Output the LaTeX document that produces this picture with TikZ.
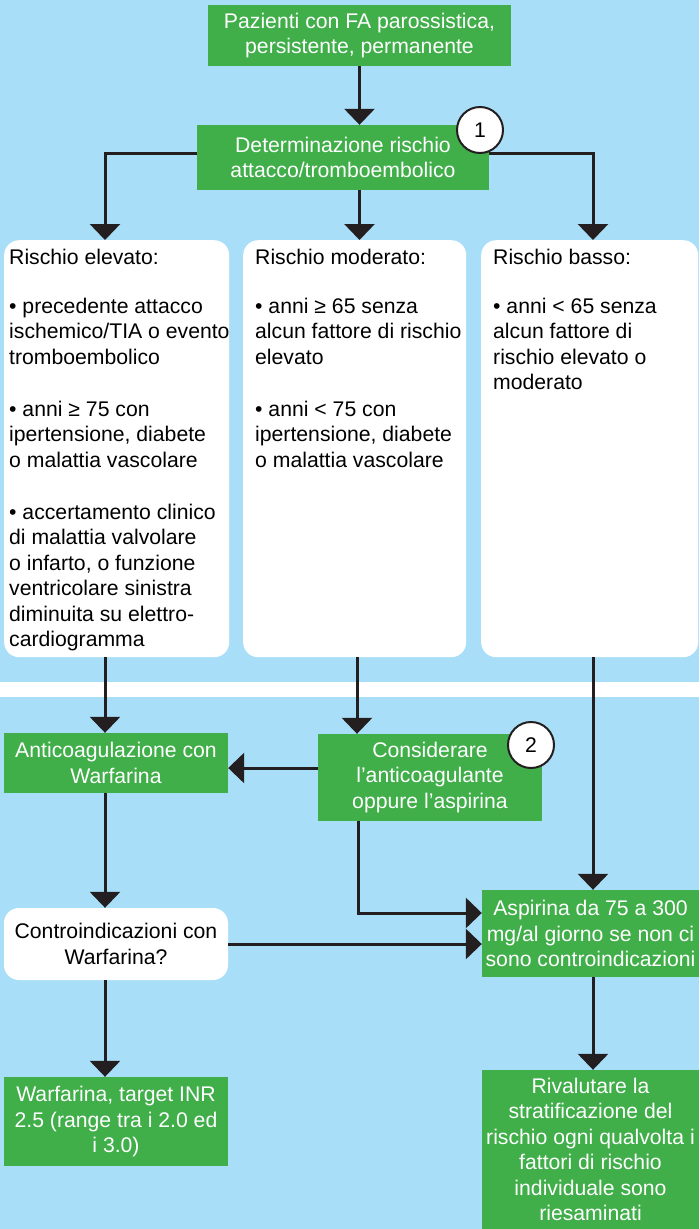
\documentclass[tikz,border=0pt]{standalone}
\usepackage{fontspec}
\setmainfont{Liberation Sans}
\usetikzlibrary{arrows.meta}

\definecolor{skyback}{RGB}{169,222,249}
\definecolor{boxgreen}{RGB}{64,174,73}
\definecolor{inkline}{RGB}{35,31,32}

% top-aligned text for the three risk boxes (lines are broken by hand)
\newcommand{\riskpar}[2]{\makebox[#1][l]{\parbox[t][400pt][t]{300pt}{\raggedright #2}}}

\begin{document}
\begin{tikzpicture}[x=1pt, y=-1pt,
		every node/.style={font=\fontsize{21.2}{25.5}\selectfont},
		greenbox/.style={rectangle, fill=boxgreen, text=white, align=center, inner sep=0pt},
		whitebox/.style={rectangle, rounded corners=15pt, fill=white, text=black, inner sep=0pt},
		riskbox/.style={whitebox, anchor=north west, minimum height=417pt, inner ysep=6pt},
		numcirc/.style={circle, draw=inkline, line width=2pt, fill=white, minimum size=46pt, inner sep=0pt},
		arr/.style={draw=inkline, line width=3pt, -{Triangle[length=16pt,width=30pt]}}]
		\def\picW{699} % Width of the picture
		\def\picH{1229} % Height of the picture
		
		% Background and white separating band
		\useasboundingbox (0,0) rectangle (\picW,\picH);
		\fill[skyback] (0,0) rectangle (\picW,\picH);
		\fill[white] (0,682) rectangle (\picW,697);
		
		% Columns of the connectors
		\coordinate (colA) at (105,0);
		\coordinate (colB) at (357,0);
		\coordinate (colC) at (593,0);
		\coordinate (colD) at (358,0);
		
		% Upper part
		\node[greenbox, minimum width=303pt, minimum height=61pt] (top) at (359.5,35.5)
			{Pazienti con FA parossistica,\\persistente, permanente};
		\node[greenbox, minimum width=292pt, minimum height=65pt] (det) at (343,157.5)
			{Determinazione rischio\\attacco/tromboembolico};
		
		\node[riskbox, minimum width=225pt, inner xsep=5pt] (high) at (4,240)
			{\riskpar{215pt}{Rischio elevato:\\[23.5pt]
				• precedente attacco\\ischemico/TIA o evento\\tromboembolico\\[26.5pt]
				• anni ≥ 75 con\\ipertensione, diabete\\o malattia vascolare\\[26.5pt]
				• accertamento clinico\\di malattia valvolare\\o infarto, o funzione\\ventricolare sinistra\\diminuita su elettro-\\cardiogramma}};
		\node[riskbox, minimum width=223pt, inner xsep=12pt] (mod) at (243,240)
			{\riskpar{199pt}{Rischio moderato:\\[23.5pt]
				• anni ≥ 65 senza\\alcun fattore di rischio\\elevato\\[26.5pt]
				• anni < 75 con\\ipertensione, diabete\\o malattia vascolare}};
		\node[riskbox, minimum width=217pt, inner xsep=12pt] (low) at (481,240)
			{\riskpar{193pt}{Rischio basso:\\[23.5pt]
				• anni < 65 senza\\alcun fattore di\\rischio elevato o\\moderato}};
		
		% Lower part
		\node[greenbox, minimum width=224pt, minimum height=60pt] (anti) at (116,763)
			{Anticoagulazione con\\Warfarina};
		\node[greenbox, minimum width=224pt, minimum height=87pt] (cons) at (430,777.5)
			{Considerare\\l’anticoagulante\\oppure l’aspirina};
		\node[whitebox, align=center, minimum width=224pt, minimum height=72pt] (contr) at (116,944)
			{Controindicazioni con\\Warfarina?};
		\node[greenbox, minimum width=217pt, minimum height=87pt] (asp) at (590.5,933.5)
			{Aspirina da 75 a 300\\mg/al giorno se non ci\\sono controindicazioni};
		\node[greenbox, minimum width=224pt, minimum height=89pt] (warf) at (116,1121.5)
			{Warfarina, target INR\\2.5 (range tra i 2.0 ed\\i 3.0)};
		\node[greenbox, minimum width=217pt, minimum height=159pt] (rival) at (590.5,1149.5)
			{Rivalutare la\\stratificazione del\\rischio ogni qualvolta i\\fattori di rischio\\individuale sono\\riesaminati};
		
		% Connectors
		\draw[arr] (top.south) -- (top.south |- det.north);
		\draw[arr] ([yshift=4.5pt]det.west) -| (colA |- high.north);
		\draw[arr] (top.south |- det.south) -- (top.south |- mod.north);
		\draw[arr] ([yshift=4.5pt]det.east) -| (colC |- low.north);
		\draw[arr] (colA |- high.south) -- (colA |- anti.north);
		\draw[arr] (colB |- mod.south) -- (colB |- cons.north);
		\draw[arr] (colC |- low.south) -- (colC |- asp.north);
		\draw[arr] ([yshift=-5pt]anti.east -| cons.west) -- ([yshift=-5pt]anti.east);
		\draw[arr] (colA |- anti.south) -- (colA |- contr.north);
		\draw[arr] (colD |- cons.south) |- ([yshift=20.5pt]asp.west);
		\draw[arr] (contr.east) -- (contr.east -| asp.west);
		\draw[arr] (colA |- contr.south) -- (colA |- warf.north);
		\draw[arr] (colC |- asp.south) -- (colC |- rival.north);
		
		% Numbered markers
		\node[numcirc] (one) at (480,130) {1};
		\node[numcirc] (two) at (531,745) {2};
	\end{tikzpicture}
\end{document}
